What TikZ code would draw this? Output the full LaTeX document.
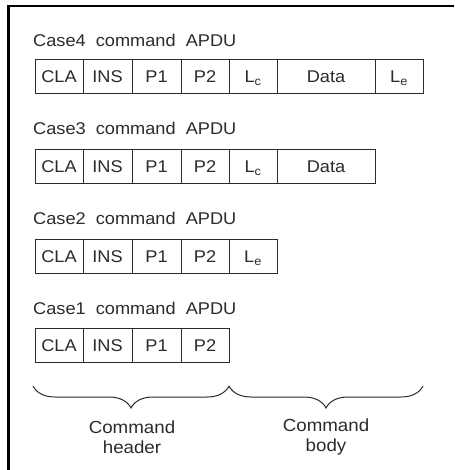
\documentclass[tikz,border=0pt]{standalone}
\usepackage{fontspec}
\setmainfont{Liberation Sans}[FakeStretch=1.07]
\usetikzlibrary{decorations.pathreplacing}
\definecolor{ink}{HTML}{2B2B2B}
\tikzset{
  cell/.style={draw=ink, line width=0.9pt, text=ink, minimum height=34pt, inner sep=0pt,
    text height=12.2pt, text depth=0pt, font=\fontsize{17}{20}\selectfont},
  title/.style={anchor=west, text=ink, inner sep=0pt, text height=12.2pt, text depth=0pt,
    font=\fontsize{17}{20}\selectfont},
  lbl/.style={text=ink, align=center, inner sep=0pt, font=\fontsize{17.5}{20}\selectfont},
  brc/.style={draw=ink, line width=1pt, decorate, decoration={brace, mirror, amplitude=22pt}}
}
\begin{document}
\begin{tikzpicture}[x=1pt, y=-1pt]
\useasboundingbox (0,0) rectangle (454,470);
% frame
\draw[line width=2.3pt, black] (8.5,470) -- (8.5,6) -- (454,6);
% titles
\node[title] (t4) at (33,40) {Case4~~command~~APDU};
\node[title] (t3) at (33,128) {Case3~~command~~APDU};
\node[title] (t2) at (33,218) {Case2~~command~~APDU};
\node[title] (t1) at (33,308) {Case1~~command~~APDU};
% rows
\foreach \x/\w/\t [count=\i] in {59/48/CLA, 107.5/49/INS, 156.5/49/P1, 205/48/P2, 253/48/{L\textsubscript{c}}, 326/98/Data, 399/48/{L\textsubscript{e}}}
  \node[cell, minimum width=\w pt] (a\i) at (\x,76.5) {\t};
\foreach \x/\w/\t [count=\i] in {59/48/CLA, 107.5/49/INS, 156.5/49/P1, 205/48/P2, 253/48/{L\textsubscript{c}}, 326/98/Data}
  \node[cell, minimum width=\w pt] (b\i) at (\x,166.5) {\t};
\foreach \x/\w/\t [count=\i] in {59/48/CLA, 107.5/49/INS, 156.5/49/P1, 205/48/P2, 253/48/{L\textsubscript{e}}}
  \node[cell, minimum width=\w pt] (c\i) at (\x,256.5) {\t};
\foreach \x/\w/\t [count=\i] in {59/48/CLA, 107.5/49/INS, 156.5/49/P1, 205/48/P2}
  \node[cell, minimum width=\w pt] (d\i) at (\x,345.5) {\t};
% braces
\coordinate (bl) at (33,386);
\coordinate (bm) at (229,386);
\coordinate (br) at (423,386);
\draw[brc] (bl) -- (bm);
\draw[brc] (bm) -- (br);
% labels
\node[lbl] (hdr) at (132,437) {Command\\header};
\node[lbl] (bdy) at (326,437) {Command\\body};
\end{tikzpicture}
\end{document}
